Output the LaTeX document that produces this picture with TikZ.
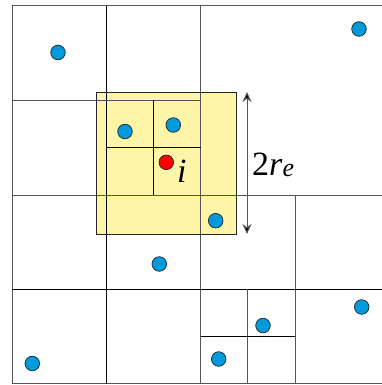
\documentclass[tikz,border=0pt]{standalone}
\usepackage{fontspec}
\setmainfont{Liberation Serif}
\newfontfamily\labelfont{Liberation Serif}
\usetikzlibrary{arrows.meta}
\definecolor{dotblue}{RGB}{0,153,219}
\definecolor{dotred}{RGB}{255,0,0}
\definecolor{yellowfill}{RGB}{255,245,168}
\definecolor{gridgray}{RGB}{85,85,85}
\begin{document}
\begin{tikzpicture}[x=1pt,y=-1pt,
  gridline/.style={draw=gridgray, line width=1pt},
  darkline/.style={draw=black, line width=1pt},
  dot/.style={circle, draw=black!85, line width=0.7pt, fill=dotblue, minimum size=14.6pt, inner sep=0pt},
  reddot/.style={dot, fill=dotred},
  lbl/.style={inner sep=0pt, anchor=base west, font=\labelfont\fontsize{34}{36}\selectfont}]
\useasboundingbox (0,0) rectangle (382,385);
% search region
\fill[yellowfill] (96,92) rectangle (236,234);
\begin{scope}
\clip (0,0) rectangle (382,385);
% outer frame
\draw[gridline] (389,6) -- (12,6) -- (12,383.7) -- (389,383.7);
% main grid
\draw[gridline] (12,195) -- (389,195);
\draw[gridline] (200.5,6) -- (200.5,383.7);
% top-left quadrant
\draw[darkline] (106.3,6) -- (106.3,195);
\draw[gridline] (12,100.3) -- (200.5,100.3);
\draw[darkline] (153.4,100.3) -- (153.4,195);
\draw[darkline] (106.3,147.6) -- (200.5,147.6);
% bottom-left quadrant
\draw[darkline] (106.3,195) -- (106.3,383.7);
\draw[darkline] (12,289.3) -- (200.5,289.3);
% bottom-right quadrant
\draw[gridline] (295,195) -- (295,383.7);
\draw[darkline] (200.5,289.3) -- (389,289.3);
\draw[gridline] (247.7,289.3) -- (247.7,383.7);
\draw[darkline] (200.5,336.5) -- (295,336.5);
\end{scope}
\draw[draw=black!85, line width=0.9pt] (96,92) rectangle (236,234);
% particles
\node[dot] (p1) at (58,52.5) {};
\node[dot] (p2) at (359,29) {};
\node[dot] (p3) at (125,131.5) {};
\node[dot] (p4) at (173.3,125) {};
\node[dot] (p5) at (215.7,220.7) {};
\node[dot] (p6) at (159.3,264) {};
\node[dot] (p7) at (361.7,307) {};
\node[dot] (p8) at (263,325.5) {};
\node[dot] (p9) at (218.7,359) {};
\node[dot] (p10) at (32.3,363.5) {};
\node[reddot] (pi) at (166.3,162.3) {};
\node[lbl] (li) at (177,182) {\itshape i};
% radius arrow
\coordinate (atop) at (247,92);
\coordinate (abot) at (247,234);
\draw[draw=gridgray, line width=1pt, {Stealth[length=10pt,width=9pt,fill=black]}-{Stealth[length=10pt,width=9pt,fill=black]}] (atop) -- (abot);
\node[lbl] (lr) at (252,175.5) {2\textit{r}\raisebox{-1pt}{\fontsize{26}{26}\selectfont\itshape e}};
\end{tikzpicture}
\end{document}
